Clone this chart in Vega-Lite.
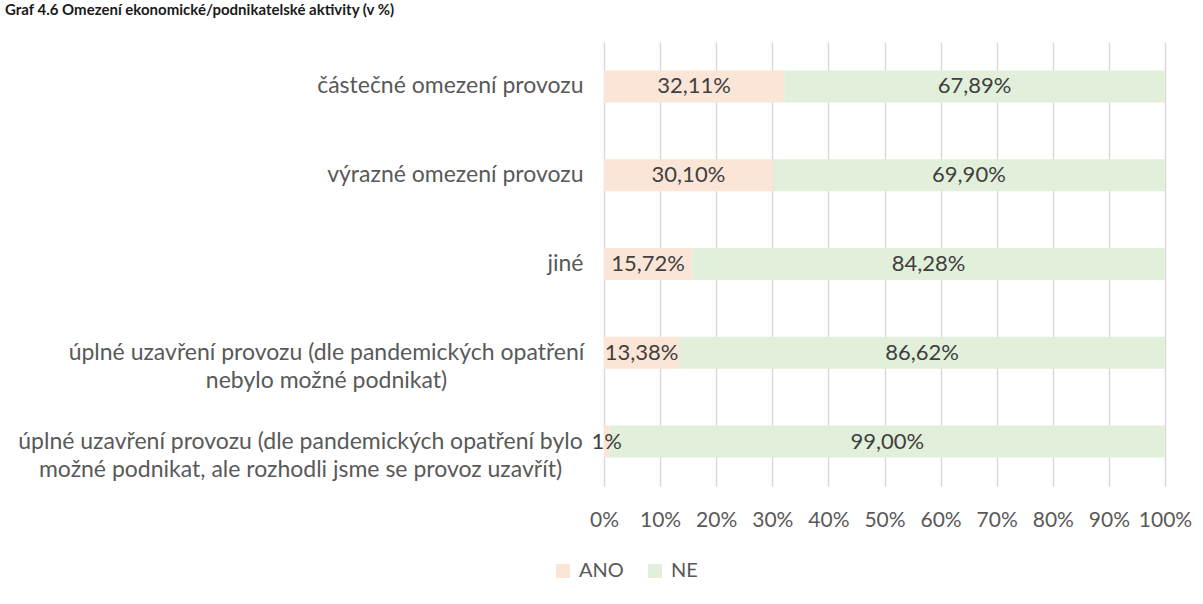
{
  "$schema": "https://vega.github.io/schema/vega-lite/v6.json",
  "width": 561,
  "height": 444,
  "autosize": {"type": "none"},
  "padding": {"left": 604, "top": 42, "right": 38, "bottom": 118},
  "background": "white",
  "title": {
    "text": "Graf 4.6 Omezení ekonomické/podnikatelské aktivity (v %)",
    "anchor": "start",
    "frame": "group",
    "dx": -599,
    "offset": 12,
    "baseline": "alphabetic",
    "font": "Lato",
    "fontSize": 15,
    "fontWeight": "bold",
    "color": "#1a1a1a"
  },
  "data": {
    "values": [
      {"cat": "částečné omezení provozu", "answer": "ANO", "v": 0.3211, "label": "32,11%"},
      {"cat": "částečné omezení provozu", "answer": "NE", "v": 0.6789, "label": "67,89%"},
      {"cat": "výrazné omezení provozu", "answer": "ANO", "v": 0.3010, "label": "30,10%"},
      {"cat": "výrazné omezení provozu", "answer": "NE", "v": 0.6990, "label": "69,90%"},
      {"cat": "jiné", "answer": "ANO", "v": 0.1572, "label": "15,72%"},
      {"cat": "jiné", "answer": "NE", "v": 0.8428, "label": "84,28%"},
      {"cat": "úplné uzavření provozu (dle pandemických opatření\nnebylo možné podnikat)", "answer": "ANO", "v": 0.1338, "label": "13,38%"},
      {"cat": "úplné uzavření provozu (dle pandemických opatření\nnebylo možné podnikat)", "answer": "NE", "v": 0.8662, "label": "86,62%"},
      {"cat": "úplné uzavření provozu (dle pandemických opatření bylo\nmožné podnikat, ale rozhodli jsme se provoz uzavřít)", "answer": "ANO", "v": 0.01, "label": "1%"},
      {"cat": "úplné uzavření provozu (dle pandemických opatření bylo\nmožné podnikat, ale rozhodli jsme se provoz uzavřít)", "answer": "NE", "v": 0.99, "label": "99,00%"}
    ]
  },
  "encoding": {
    "y": {
      "field": "cat",
      "type": "nominal",
      "sort": null,
      "title": null,
      "scale": {"paddingInner": 0.64, "paddingOuter": 0.32},
      "axis": {
        "domain": false,
        "ticks": false,
        "labelExpr": "split(datum.label, '\\n')",
        "labelAlign": {"condition": {"test": "indexof(datum.value, '\\n') >= 0", "value": "center"}, "value": "right"},
        "labelPadding": 21,
        "labelLimit": 700,
        "labelFont": "Lato",
        "labelFontSize": 23,
        "labelColor": "#595959",
        "labelLineHeight": 28,
        "encoding": {
          "labels": {
            "dx": {
              "condition": [
                {"test": "indexof(datum.value, 'bylo\\n') >= 0", "value": -283},
                {"test": "indexof(datum.value, '\\n') >= 0", "value": -257}
              ],
              "value": 0
            }
          }
        }
      }
    }
  },
  "layer": [
    {
      "mark": {"type": "bar"},
      "encoding": {
        "x": {
          "field": "v",
          "type": "quantitative",
          "stack": "zero",
          "title": null,
          "scale": {"domain": [0, 1], "nice": false},
          "axis": {
            "format": ".0%",
            "values": [0, 0.1, 0.2, 0.3, 0.4, 0.5, 0.6, 0.7, 0.8, 0.9, 1],
            "domain": false,
            "ticks": false,
            "grid": true,
            "gridColor": "#D9D9D9",
            "gridWidth": 1.5,
            "labelPadding": 23,
            "labelFont": "Lato",
            "labelFontSize": 21,
            "labelColor": "#595959",
            "labelFlush": false,
            "labelOverlap": false
          }
        },
        "color": {
          "field": "answer",
          "type": "nominal",
          "scale": {"domain": ["ANO", "NE"], "range": ["#FBE5D6", "#E2EFDA"]},
          "legend": {
            "title": null,
            "orient": "none",
            "direction": "horizontal",
            "legendX": -51,
            "legendY": 519,
            "symbolType": "square",
            "symbolSize": 196,
            "symbolStrokeWidth": 0,
            "labelFont": "Lato",
            "labelFontSize": 20,
            "labelColor": "#595959",
            "labelOffset": 6,
            "columnPadding": 21
          }
        },
        "order": {"field": "answer", "sort": "ascending"}
      }
    },
    {
      "transform": [
        {"stack": "v", "groupby": ["cat"], "sort": [{"field": "answer", "order": "ascending"}], "as": ["x0", "x1"]},
        {"fold": ["x0", "x1"], "as": ["edge", "pos"]}
      ],
      "mark": {"type": "text", "font": "Lato", "fontSize": 22, "color": "#404040", "align": "center", "baseline": "middle"},
      "encoding": {
        "x": {"aggregate": "mean", "field": "pos", "type": "quantitative"},
        "text": {"field": "label", "type": "nominal"}
      }
    }
  ],
  "config": {
    "view": {"stroke": null}
  }
}
